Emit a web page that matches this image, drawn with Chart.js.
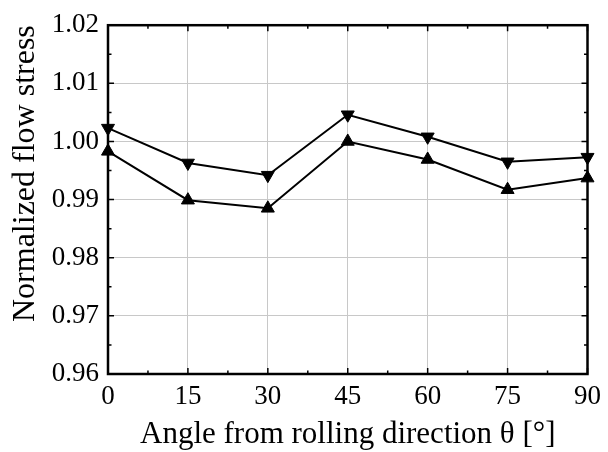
<!DOCTYPE html>
<html>
<head>
<meta charset="utf-8">
<script src="https://cdn.jsdelivr.net/npm/chart.js@4/dist/chart.umd.min.js"></script>
<style>
  html, body { margin: 0; padding: 0; background: #fff; }
  #chart { display: block; }
</style>
</head>
<body>
<canvas id="chart" width="608" height="452"></canvas>
<script>
// ==========================================
// DATA
// ==========================================

const angles = [0, 15, 30, 45, 60, 75, 90];
const stressDown = [1.0023, 0.9963, 0.9942, 1.0046, 1.0008, 0.9965, 0.9973];
const stressUp = [0.9983, 0.9899, 0.9885, 1.0000, 0.9969, 0.9917, 0.9937];

const xTicks = [0, 15, 30, 45, 60, 75, 90];
const yTicks = [0.96, 0.97, 0.98, 0.99, 1.00, 1.01, 1.02];

const FONT = "'Liberation Serif', 'Times New Roman', serif";

function toPoints(values) {
  return angles.map((a, i) => ({ x: a, y: values[i] }));
}

// ==========================================
// FRAME + INWARD TICKS
// ==========================================

const framePlugin = {
  id: 'frame',
  afterDatasetsDraw(chart) {
    const { ctx, chartArea: a, scales } = chart;
    const major = 6, minor = 3.5;
    ctx.save();
    ctx.strokeStyle = '#000';
    ctx.lineWidth = 1.5;
    ctx.beginPath();

    for (let i = 0; i < xTicks.length; i++) {
      const px = scales.x.getPixelForValue(xTicks[i]);
      ctx.moveTo(px, a.bottom); ctx.lineTo(px, a.bottom - major);
      ctx.moveTo(px, a.top); ctx.lineTo(px, a.top + major);
      if (i < xTicks.length - 1) {
        const mx = scales.x.getPixelForValue((xTicks[i] + xTicks[i + 1]) / 2);
        ctx.moveTo(mx, a.bottom); ctx.lineTo(mx, a.bottom - minor);
        ctx.moveTo(mx, a.top); ctx.lineTo(mx, a.top + minor);
      }
    }
    for (let i = 0; i < yTicks.length; i++) {
      const py = scales.y.getPixelForValue(yTicks[i]);
      ctx.moveTo(a.left, py); ctx.lineTo(a.left + major, py);
      ctx.moveTo(a.right, py); ctx.lineTo(a.right - major, py);
      if (i < yTicks.length - 1) {
        const my = scales.y.getPixelForValue((yTicks[i] + yTicks[i + 1]) / 2);
        ctx.moveTo(a.left, my); ctx.lineTo(a.left + minor, my);
        ctx.moveTo(a.right, my); ctx.lineTo(a.right - minor, my);
      }
    }
    ctx.stroke();

    ctx.lineWidth = 2.5;
    ctx.strokeRect(a.left, a.top, a.right - a.left, a.bottom - a.top);
    ctx.restore();
  }
};

// ==========================================
// CHART
// ==========================================

const series = (values, rotation) => ({
  data: toPoints(values),
  borderColor: '#000',
  borderWidth: 2,
  backgroundColor: '#000',
  pointStyle: 'triangle',
  pointRotation: rotation,
  pointRadius: 7.5,
  pointBorderWidth: 1,
  pointBackgroundColor: '#000',
  pointBorderColor: '#000',
  tension: 0,
  clip: false
});

new Chart(document.getElementById('chart'), {
  type: 'line',
  data: {
    datasets: [series(stressUp, 0), series(stressDown, 180)]
  },
  options: {
    responsive: false,
    animation: false,
    devicePixelRatio: 1,
    layout: { padding: { top: 19, right: 17, left: 0, bottom: 0 } },
    plugins: { legend: { display: false }, tooltip: { enabled: false } },
    scales: {
      x: {
        type: 'linear',
        min: 0,
        max: 90,
        afterBuildTicks: s => { s.ticks = xTicks.map(v => ({ value: v })); },
        afterFit: s => { s.height = 78; },
        ticks: {
          color: '#000',
          padding: 7,
          maxRotation: 0,
          font: { family: FONT, size: 27 }
        },
        grid: { color: '#c8c8c8', lineWidth: 1, drawTicks: false },
        border: { display: false },
        title: {
          display: true,
          text: 'Angle from rolling direction θ [°]',
          color: '#000',
          padding: { top: 0, bottom: 2 },
          font: { family: FONT, size: 31, lineHeight: 1 }
        }
      },
      y: {
        type: 'linear',
        min: 0.96,
        max: 1.02,
        afterBuildTicks: s => { s.ticks = yTicks.map(v => ({ value: v })); },
        afterFit: s => { s.width = 108; },
        ticks: {
          color: '#000',
          padding: 9,
          font: { family: FONT, size: 27 },
          callback: v => v.toFixed(2)
        },
        grid: { color: '#c8c8c8', lineWidth: 1, drawTicks: false },
        border: { display: false },
        title: {
          display: true,
          text: 'Normalized flow stress',
          color: '#000',
          align: 'end',
          padding: { top: 10, bottom: 0 },
          font: { family: FONT, size: 32, lineHeight: 1 }
        }
      }
    }
  },
  plugins: [framePlugin]
});
</script>
</body>
</html>
